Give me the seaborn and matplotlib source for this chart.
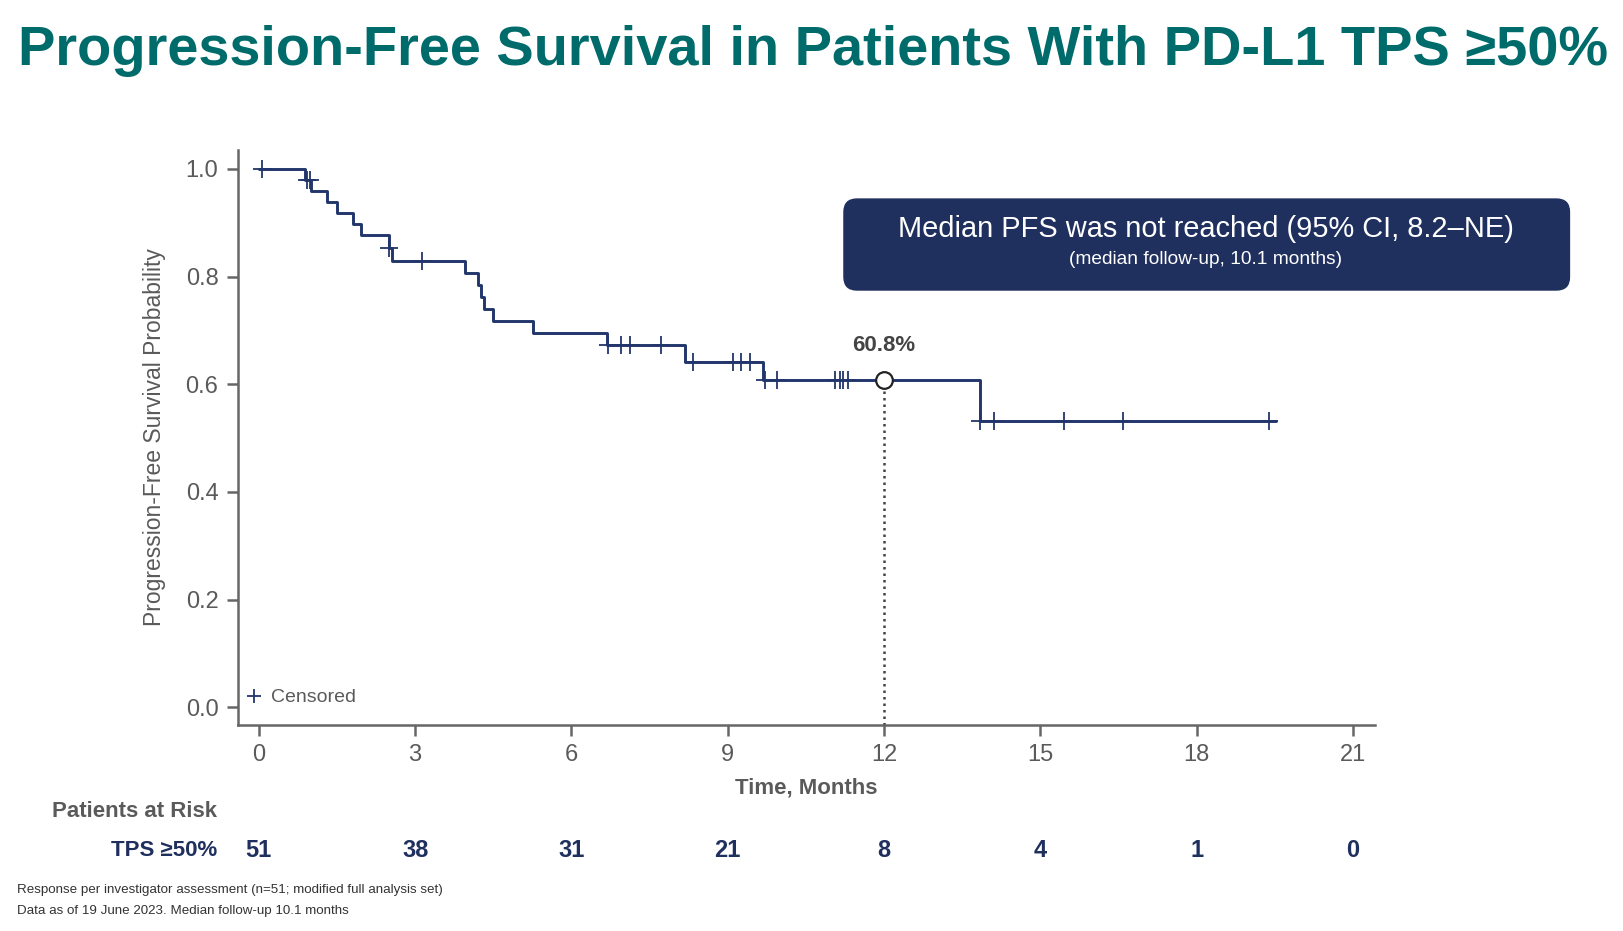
import numpy as np
import pandas as pd
import matplotlib.pyplot as plt
import seaborn as sns
from matplotlib.patches import FancyBboxPatch
from matplotlib.lines import Line2D
import matplotlib.transforms as mtransforms

NAVY = "#22366B"
BOX_NAVY = "#1F2F5E"
TEAL = "#006B6B"
GRAY = "#5A5A5A"
FONTS = ["Liberation Sans Narrow", "Liberation Sans", "DejaVu Sans"]

# Kaplan-Meier step curve
step_times = [0, 0.88, 1.00, 1.30, 1.51, 1.80, 1.97, 2.50, 2.56, 3.96, 4.20,
              4.26, 4.32, 4.49, 5.26, 6.69, 8.18, 9.68, 13.84, 19.52]
step_surv = [1.0, 0.980, 0.959, 0.939, 0.918, 0.898, 0.877, 0.853, 0.829, 0.806,
             0.784, 0.761, 0.739, 0.717, 0.695, 0.673, 0.641, 0.608, 0.531, 0.531]

censor_times = [0.06, 0.92, 0.98, 2.50, 3.13, 6.71, 6.95, 7.13, 7.71, 8.34,
                9.10, 9.25, 9.43, 9.71, 9.94, 11.05, 11.15, 11.22, 11.30,
                13.84, 14.11, 15.45, 16.58, 19.39]

risk_months = [0, 3, 6, 9, 12, 15, 18, 21]
risk_counts = [51, 38, 31, 21, 8, 4, 1, 0]

median_time = 12
median_label = "60.8%"


def surv_at(t):
    idx = np.searchsorted(step_times, t, side="right") - 1
    return step_surv[idx]


curve = pd.DataFrame({"time": step_times, "surv": step_surv})
censors = pd.DataFrame({"time": censor_times,
                        "surv": [surv_at(t) for t in censor_times]})

sns.set_theme(style="ticks")
plt.rcParams["font.family"] = FONTS

fig = plt.figure(figsize=(16.23, 9.31), dpi=100)
ax = fig.add_axes([0.1466, 0.2213, 0.7006, 0.6176])

sns.lineplot(data=curve, x="time", y="surv", drawstyle="steps-post",
             color=NAVY, linewidth=2.1, ax=ax)
sns.scatterplot(data=censors, x="time", y="surv", marker="+", s=170,
                color=NAVY, linewidth=1.3, ax=ax, zorder=3)

ylow = -0.033
median_surv = surv_at(median_time)
ax.vlines(median_time, ylow, median_surv, colors="#444444",
          linestyles=(0, (1, 1.6)), linewidth=1.8)
ax.plot([median_time], [median_surv], marker="o", ms=12, mfc="white",
        mec="#222222", mew=1.6, zorder=4)
ax.annotate(median_label, (median_time, median_surv), xytext=(0, 17),
            textcoords="offset points", ha="center", va="bottom",
            fontsize=16, fontweight="bold", color="#444444")

ax.set_xlim(-0.40, 21.42)
ax.set_ylim(ylow, 1.035)
ax.set_xticks(risk_months)
ax.set_yticks([0, 0.2, 0.4, 0.6, 0.8, 1.0])
ax.yaxis.set_major_formatter(plt.FormatStrFormatter("%.1f"))
ax.tick_params(axis="both", length=8, width=1.8, color="#666666",
               labelsize=17, labelcolor=GRAY, pad=6)
for side in ["left", "bottom"]:
    ax.spines[side].set_linewidth(1.8)
    ax.spines[side].set_color("#666666")
sns.despine(ax=ax)
ax.set_xlabel("Time, Months", fontsize=16, fontweight="bold", color=GRAY,
              labelpad=8)
ax.set_ylabel("")
fig.text(0.0955, 0.531, "Progression-Free Survival Probability", rotation=90,
         ha="center", va="center", fontsize=16.5, color=GRAY)

# censored legend
handle = Line2D([], [], marker="+", ls="none", color=NAVY, ms=10, mew=1.3)
leg = ax.legend([handle], ["Censored"], loc="lower left", frameon=False,
                fontsize=14, handlelength=0.7, handletextpad=0.5,
                borderaxespad=0.2, bbox_to_anchor=(-0.002, 0.012))
for txt in leg.get_texts():
    txt.set_color(GRAY)

# title
fig.text(0.011, 0.945, "Progression-Free Survival in Patients With PD-L1 TPS \u226550%",
         ha="left", va="center", fontsize=40.3, fontweight="bold", color=TEAL)

# median box
box = FancyBboxPatch((0.520, 0.6885), 0.447, 0.0977, transform=fig.transFigure,
                     boxstyle="round,pad=0,rounding_size=0.008",
                     mutation_aspect=1623 / 931, facecolor=BOX_NAVY,
                     edgecolor=BOX_NAVY, zorder=5)
fig.patches.append(box)
fig.text(0.743, 0.754, "Median PFS was not reached (95% CI, 8.2\u2013NE)",
         ha="center", va="center", fontsize=20.9, color="white", zorder=6)
fig.text(0.743, 0.721, "(median follow-up, 10.1 months)", ha="center",
         va="center", fontsize=13.8, color="white", zorder=6)

# patients at risk
trans = mtransforms.blended_transform_factory(ax.transData, fig.transFigure)
fig.text(0.134, 0.128, "Patients at Risk", ha="right", va="center",
         fontsize=16, fontweight="bold", color=GRAY)
fig.text(0.134, 0.087, "TPS \u226550%", ha="right", va="center",
         fontsize=16, fontweight="bold", color=BOX_NAVY)
for m, n in zip(risk_months, risk_counts):
    ax.text(m, 0.087, str(n), transform=trans, ha="center", va="center",
            fontsize=17, fontweight="bold", color=BOX_NAVY)

fig.text(0.0105, 0.044, "Response per investigator assessment (n=51; modified full analysis set)",
         ha="left", va="center", fontsize=9.6, color="#333333")
fig.text(0.0105, 0.0215, "Data as of 19 June 2023. Median follow-up 10.1 months",
         ha="left", va="center", fontsize=9.6, color="#333333")

fig.savefig("out.png", dpi=100)
